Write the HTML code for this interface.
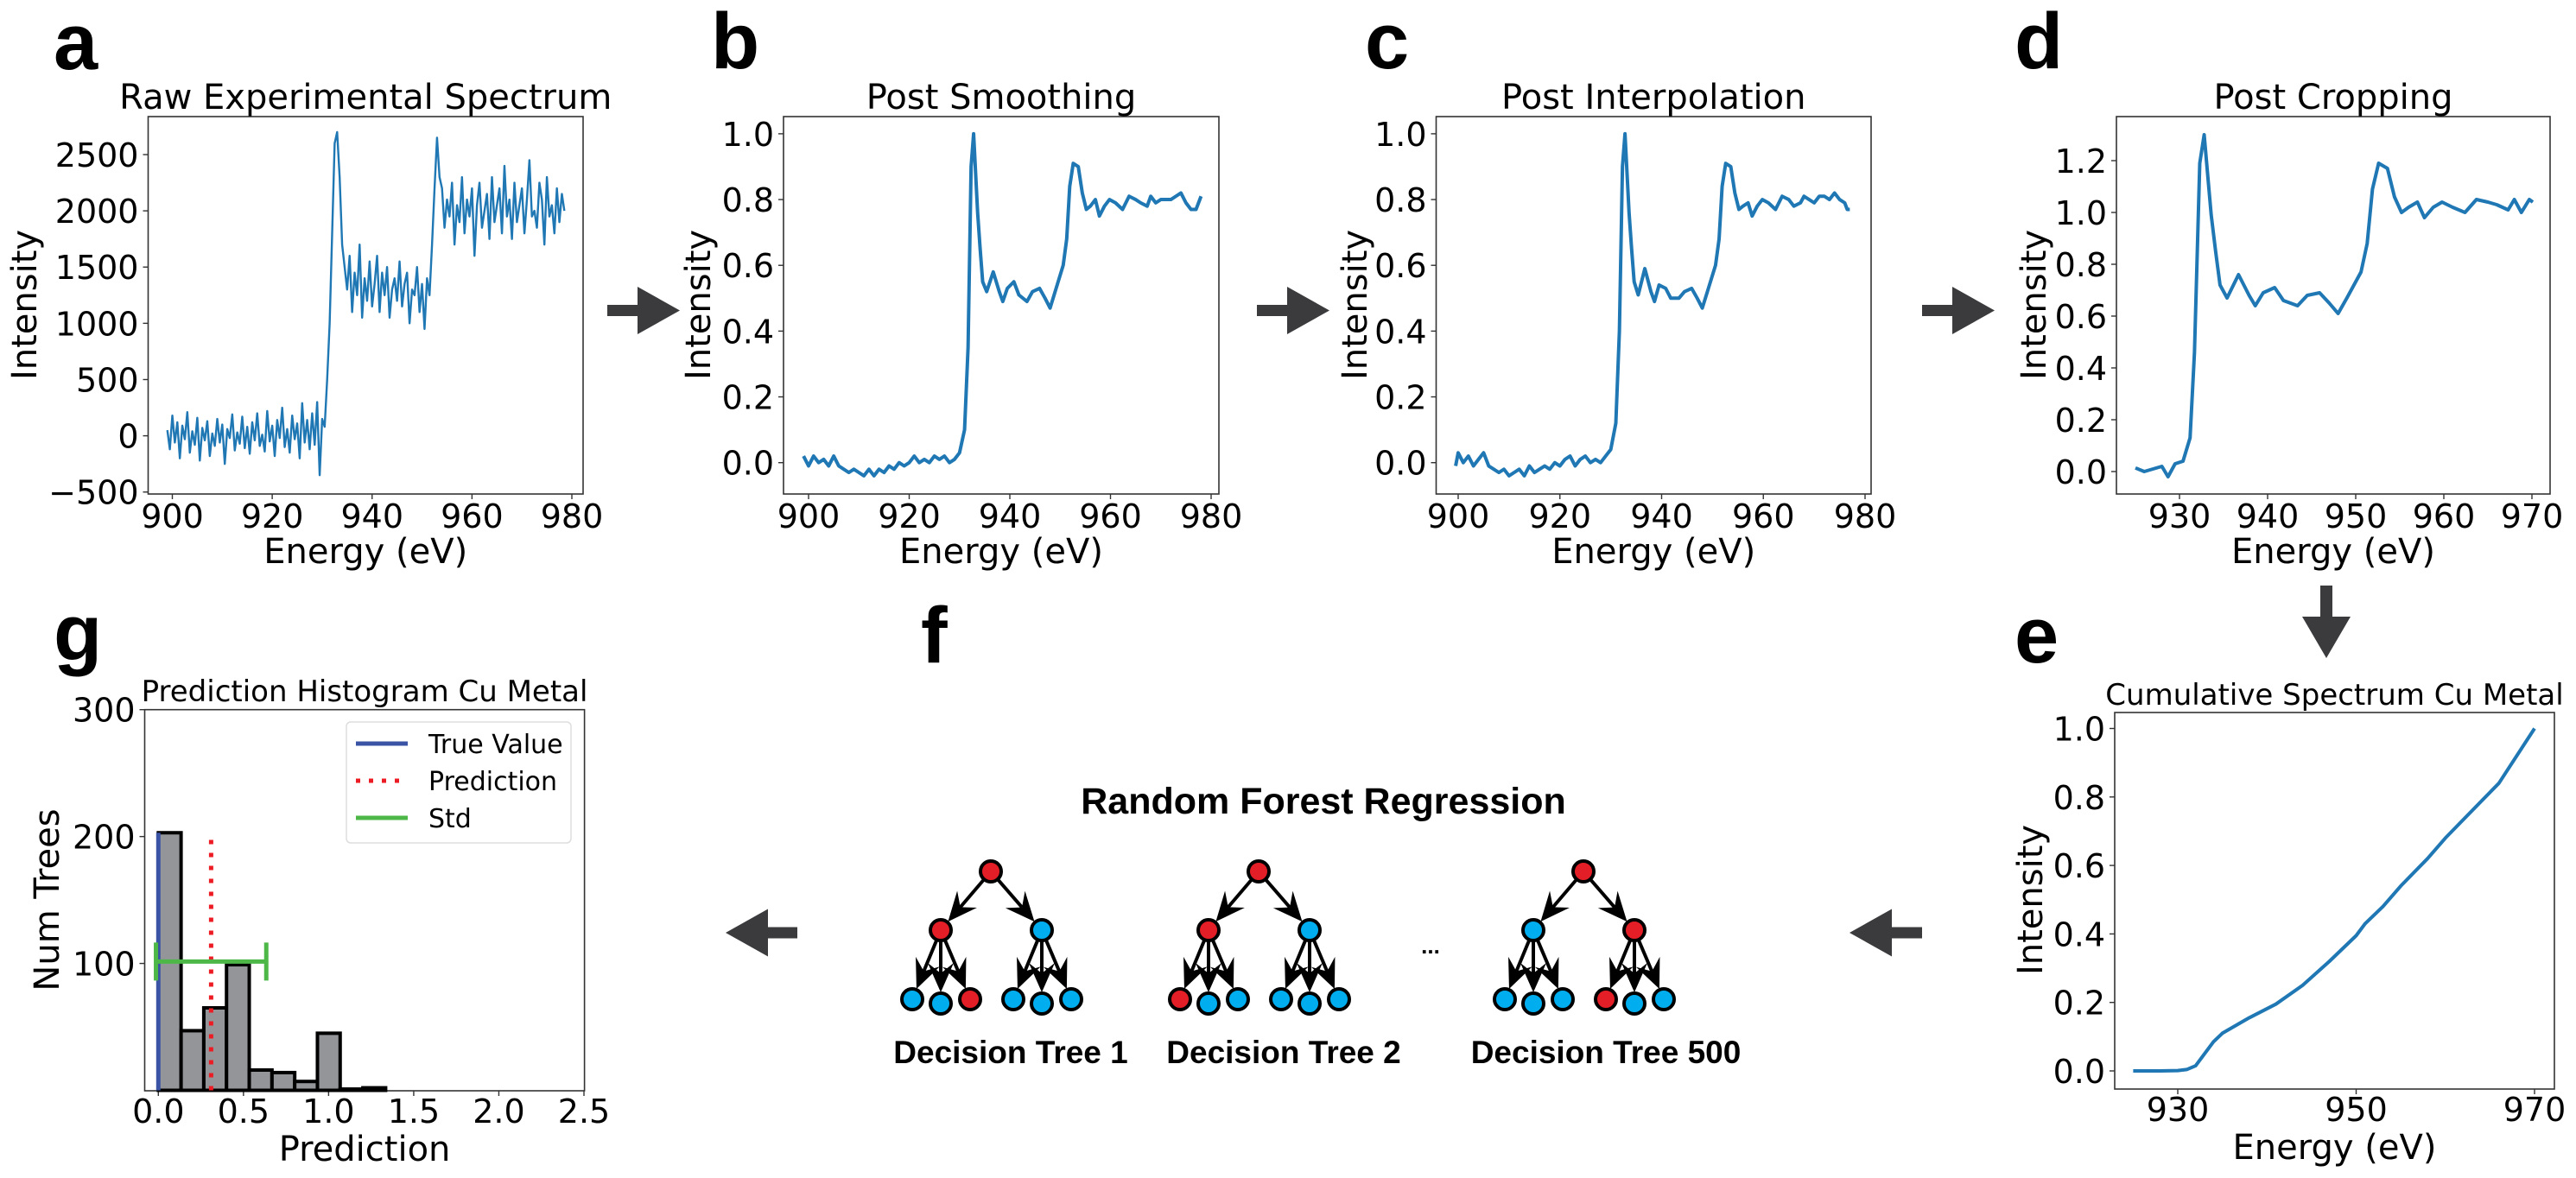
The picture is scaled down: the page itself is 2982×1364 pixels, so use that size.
<!DOCTYPE html>
<html><head><meta charset="utf-8">
<style>
html,body{margin:0;padding:0;background:#fff;}
svg{display:block;font-family:"DejaVu Sans","Liberation Sans",sans-serif;}
.lbl{font-family:"Liberation Sans",sans-serif;font-weight:bold;}
</style></head>
<body>
<svg id="fig" width="2982" height="1364" viewBox="0 0 2982 1364" xmlns="http://www.w3.org/2000/svg"></svg>
<script>
// ---------- data ----------
// raw spectrum: start 899 eV, 0.5 eV step
const rawStart = 899, rawStep = 0.5;
const rawIntensity = [50,-120,180,-60,120,-200,90,-30,210,-150,40,-80,160,-220,70,-40,130,-180,20,-90,150,-60,100,-250,60,-20,190,-130,30,-70,170,-110,80,-160,120,-40,200,-90,10,-140,220,-50,90,-180,140,-20,250,-100,60,-150,180,-30,110,-200,290,-60,140,-120,200,-80,300,-350,150,80,
500,1000,1800,2600,2700,2300,1700,1500,
1300,1600,1100,1450,1250,1700,1050,1400,1200,1550,1150,1350,1600,1100,1450,1250,1500,1050,1300,1400,1200,1550,1150,1350,1450,1000,1300,1250,1500,1100,1350,950,1400,1250,
1700,2200,2650,2300,
2200,1850,2100,1950,2250,1700,2050,1900,2300,1800,2100,1950,2200,1600,2050,2250,1850,2000,2150,1750,2300,1900,2050,2200,1800,2400,1950,2100,1750,2250,1900,2050,2200,1800,2100,2450,1950,2000,1850,2250,2100,1700,2300,1950,2050,1800,2200,1900,2150,2000];
const rawXTicks = [900,920,940,960,980];
const rawYTicks = [-500,0,500,1000,1500,2000,2500];

const smoothEnergy = [899,900,901,902,903,904,905,906,907,908,909,910,911,912,913,914,915,916,917,918,919,920,921,922,923,924,925,926,927,928,929,930,931,931.7,932.3,932.8,933.6,934.1,934.6,935.4,936.7,937.9,938.6,939.5,940.8,941.8,943.4,944.5,945.9,947,948,949,950.6,951.3,951.9,952.6,953.6,954.4,955.2,956,957,957.8,958.8,959.8,961,962.4,963.7,965,966,967.3,968,969,970,971,972,973,974,975,976,977,978];
const smoothIntensity = [0.02,-0.01,0.02,0.0,0.01,-0.01,0.02,-0.01,-0.02,-0.03,-0.02,-0.03,-0.04,-0.02,-0.04,-0.02,-0.03,-0.01,-0.02,0.0,-0.01,0.0,0.02,0.0,0.01,0.0,0.02,0.01,0.02,0.0,0.01,0.03,0.1,0.35,0.9,1.0,0.76,0.65,0.55,0.52,0.58,0.52,0.49,0.53,0.55,0.51,0.49,0.52,0.53,0.5,0.47,0.52,0.6,0.68,0.84,0.91,0.9,0.82,0.77,0.78,0.8,0.75,0.78,0.8,0.79,0.77,0.81,0.8,0.79,0.78,0.81,0.79,0.8,0.8,0.8,0.81,0.82,0.79,0.77,0.77,0.81];

const interpEnergy = [899.5,900,901,902,903,904,905,906,907,908,909,910,911,912,913,914,915,916,917,918,919,920,921,922,923,924,925,926,927,928,929,930,931,931.7,932.3,932.8,933.6,934.1,934.6,935.4,936.7,937.9,938.6,939.5,940.8,941.8,943.4,944.5,945.9,947,948,949,950.6,951.3,951.9,952.6,953.6,954.4,955.2,956,957,957.8,958.8,959.8,961,962.4,963.7,965,966,967.3,968,969,970,971,972,973,974,975,976,976.5,977];
const interpIntensity = [-0.01,0.03,0.0,0.02,-0.01,0.01,0.03,-0.01,-0.02,-0.03,-0.02,-0.04,-0.03,-0.02,-0.04,-0.01,-0.03,-0.02,-0.01,-0.02,0.0,-0.01,0.01,0.02,-0.01,0.01,0.02,0.0,0.01,0.0,0.02,0.04,0.12,0.4,0.9,1.0,0.76,0.65,0.55,0.51,0.59,0.52,0.49,0.54,0.53,0.5,0.5,0.52,0.53,0.5,0.47,0.52,0.6,0.68,0.84,0.91,0.9,0.82,0.77,0.78,0.79,0.75,0.78,0.8,0.79,0.77,0.81,0.8,0.78,0.79,0.81,0.8,0.79,0.81,0.81,0.8,0.82,0.8,0.79,0.77,0.77];

const cropEnergy = [925,926,927,928,928.7,929.5,930.4,931.2,931.7,932.3,932.8,933.6,934.1,934.6,935.4,936.7,937.9,938.6,939.5,940.8,941.8,943.4,944.5,945.9,947,948,949,950.6,951.3,951.9,952.6,953.6,954.4,955.2,956,957,957.8,958.8,959.8,961,962.4,963.7,965,966,967.3,968,968.8,969.7,970.1];
const cropIntensity = [0.014,0.0,0.01,0.02,-0.02,0.03,0.04,0.13,0.46,1.19,1.30,0.99,0.85,0.72,0.67,0.76,0.68,0.64,0.69,0.71,0.66,0.64,0.68,0.69,0.65,0.61,0.67,0.77,0.88,1.09,1.19,1.17,1.06,1.0,1.02,1.04,0.98,1.02,1.04,1.02,1.0,1.05,1.04,1.03,1.01,1.05,1.0,1.05,1.04];

const cumEnergy = [925,928,930,931,932,933,934,935,938,941,944,947,950,951,953,955,958,960,963,966,970];
const cumIntensity = [0,0,0.001,0.004,0.015,0.05,0.085,0.11,0.155,0.195,0.25,0.32,0.395,0.43,0.48,0.54,0.62,0.68,0.76,0.84,1.0];

const histCounts = [203,47,65,99,16,14,7,45,1,2];
const histBinWidth = 0.1335;
const trueValue = 0.0;
const predValue = 0.31;
const stdLow = -0.014, stdHigh = 0.634;
const stdLevel = 101.5;

// ---------- helpers ----------
const NS = 'http://www.w3.org/2000/svg';
const svg = document.getElementById('fig');
function mk(tag, attrs, parent){
  const e = document.createElementNS(NS, tag);
  for (const k in attrs) e.setAttribute(k, attrs[k]);
  (parent||svg).appendChild(e);
  return e;
}
function lin(d0,p0,d1,p1){ return v => p0 + (v-d0)*(p1-p0)/(d1-d0); }
function txt(s, x, y, size, anchor, parent, extra){
  const t = mk('text', Object.assign({x:x, y:y, 'font-size':size, 'text-anchor':anchor||'start', fill:'#000'}, extra||{}), parent);
  t.textContent = s;
  return t;
}

function axes(cfg){
  const g = mk('g', {});
  
  
  mk('rect', {x:cfg.l, y:cfg.t, width:cfg.r-cfg.l, height:cfg.b-cfg.t, fill:'#fff', stroke:'#333', 'stroke-width':1.6}, g);
  cfg.xt.forEach((v,i) => {
    const x = cfg.sx(v);
    mk('line', {x1:x, x2:x, y1:cfg.b, y2:cfg.b+6, stroke:'#333', 'stroke-width':1.4}, g);
    const t = txt(cfg.xl ? cfg.xl[i] : String(v), x, cfg.xtY, cfg.fs, 'middle', g);
    
    
  });
  cfg.yt.forEach((v,i) => {
    const y = cfg.sy(v);
    mk('line', {x1:cfg.l-6, x2:cfg.l, y1:y, y2:y, stroke:'#333', 'stroke-width':1.4}, g);
    const lab = cfg.yl ? cfg.yl[i] : String(v);
    const t = txt(lab.replace('-', '\u2212'), cfg.l-11, y+14, cfg.fs, 'end', g);
    
    
  });
  const tt = txt(cfg.title, (cfg.l+cfg.r)/2, cfg.titleY, cfg.titleFs, 'middle', g);
  
  
  const xl = txt(cfg.xlabel, (cfg.l+cfg.r)/2, cfg.xlabelY, cfg.lfs || 40, 'middle', g);
  
  
  const yl = txt(cfg.ylabel, 0, 0, cfg.lfs || 40, 'middle', g, {transform:`translate(${cfg.ylabelX},${cfg.ylabelY}) rotate(-90)`});
  
  
  return g;
}
function linePath(xs, ys, sx, sy){
  return xs.map((x,i)=> (i?'L':'M') + sx(x).toFixed(2) + ',' + sy(ys[i]).toFixed(2)).join('');
}
const BLUE = '#1f77b4';

// ---------- panel a ----------
(function(){
  const sx = lin(900,199.5,980,662), sy = lin(0,504.6,2500,179);
  const g = axes({name:'panel-a-raw-spectrum', l:171.5,r:675,t:135,b:572, sx, sy, xt:rawXTicks, yt:rawYTicks, fs:38, xtY:611, title:'Raw Experimental Spectrum', titleY:126, titleFs:40, xlabel:'Energy (eV)', xlabelY:652, ylabel:'Intensity', ylabelX:42, ylabelY:353});
  const xs = rawIntensity.map((v,i)=> rawStart + i*rawStep);
  const p = mk('path', {d:linePath(xs, rawIntensity, sx, sy), fill:'none', stroke:BLUE, 'stroke-width':2.4, 'stroke-linejoin':'round'}, g);
  
  
})();

// ---------- panel b ----------
const unitTicks = [0,0.2,0.4,0.6,0.8,1.0];
const unitTickLabels = ['0.0','0.2','0.4','0.6','0.8','1.0'];
(function(){
  const sx = lin(900,936,980,1402), sy = lin(0,535.7,1,154.9);
  const g = axes({name:'panel-b-post-smoothing', l:907,r:1411,t:135,b:572, sx, sy, xt:rawXTicks, yt:unitTicks, yl:unitTickLabels, fs:38, xtY:611, title:'Post Smoothing', titleY:126, titleFs:40, xlabel:'Energy (eV)', xlabelY:652, ylabel:'Intensity', ylabelX:822, ylabelY:353});
  const p = mk('path', {d:linePath(smoothEnergy, smoothIntensity, sx, sy), fill:'none', stroke:BLUE, 'stroke-width':4, 'stroke-linejoin':'round'}, g);
  
  
})();

// ---------- panel c ----------
(function(){
  const sx = lin(900,1688,980,2159), sy = lin(0,535.7,1,154.9);
  const g = axes({name:'panel-c-post-interpolation', l:1662.5,r:2166,t:135,b:572, sx, sy, xt:rawXTicks, yt:unitTicks, yl:unitTickLabels, fs:38, xtY:611, title:'Post Interpolation', titleY:126, titleFs:40, xlabel:'Energy (eV)', xlabelY:652, ylabel:'Intensity', ylabelX:1582, ylabelY:353});
  const p = mk('path', {d:linePath(interpEnergy, interpIntensity, sx, sy), fill:'none', stroke:BLUE, 'stroke-width':4, 'stroke-linejoin':'round'}, g);
  
  
})();

// ---------- panel d ----------
const cropXTicks = [930,940,950,960,970];
const cropYTicks = [0,0.2,0.4,0.6,0.8,1.0,1.2];
const cropYLabels = ['0.0','0.2','0.4','0.6','0.8','1.0','1.2'];
(function(){
  const sx = lin(930,2523,970,2931), sy = lin(0,546,1.2,186);
  const g = axes({name:'panel-d-post-cropping', l:2450,r:2952,t:135,b:572, sx, sy, xt:cropXTicks, yt:cropYTicks, yl:cropYLabels, fs:38, xtY:611, title:'Post Cropping', titleY:126, titleFs:40, xlabel:'Energy (eV)', xlabelY:652, ylabel:'Intensity', ylabelX:2368, ylabelY:353});
  const p = mk('path', {d:linePath(cropEnergy, cropIntensity, sx, sy), fill:'none', stroke:BLUE, 'stroke-width':4, 'stroke-linejoin':'round'}, g);
  
  
})();

// ---------- panel e ----------
const cumXTicks = [930,950,970];
(function(){
  const sx = lin(930,2521,970,2934), sy = lin(0,1240,1,843.5);
  const g = axes({name:'panel-e-cumulative-spectrum', l:2448,r:2957,t:825,b:1261, sx, sy, xt:cumXTicks, yt:unitTicks, yl:unitTickLabels, fs:38, xtY:1298, title:'Cumulative Spectrum Cu Metal', titleY:816, titleFs:34, xlabel:'Energy (eV)', xlabelY:1342, ylabel:'Intensity', ylabelX:2364, ylabelY:1042});
  const p = mk('path', {d:linePath(cumEnergy, cumIntensity, sx, sy), fill:'none', stroke:BLUE, 'stroke-width':4, 'stroke-linejoin':'round'}, g);
  
  
})();

// ---------- panel g ----------
const histXTicks = [0,0.5,1.0,1.5,2.0,2.5];
const histXLabels = ['0.0','0.5','1.0','1.5','2.0','2.5'];
const histYTicks = [100,200,300];
(function(){
  const sx = lin(0,183.3,2.5,676), sy = lin(0,1262.5,300,821.7);
  const g = axes({name:'panel-g-prediction-histogram', l:167.5,r:676.6,t:821.7,b:1263, sx, sy, xt:histXTicks, xl:histXLabels, yt:histYTicks, fs:38, xtY:1300, title:'Prediction Histogram Cu Metal', titleY:812, titleFs:34, xlabel:'Prediction', xlabelY:1344, ylabel:'Num Trees', ylabelX:68, ylabelY:1042});
  histCounts.forEach((c,i) => {
    const x0 = sx(i*histBinWidth), x1 = sx((i+1)*histBinWidth);
    const r = mk('rect', {x:x0, y:sy(c), width:x1-x0, height:sy(0)-sy(c), fill:'#939598', stroke:'#000', 'stroke-width':4}, g);
    
    
  });
  const tv = mk('line', {x1:sx(trueValue), x2:sx(trueValue), y1:sy(0), y2:sy(histCounts[0]), stroke:'#3a53a4', 'stroke-width':5}, g);
  
  
  const pv = mk('line', {x1:sx(predValue), x2:sx(predValue), y1:sy(0), y2:sy(histCounts[0]-4), stroke:'#ed1c24', 'stroke-width':5, 'stroke-dasharray':'5,10'}, g);
  
  
  const sg = mk('g', {stroke:'#4db848', 'stroke-width':5}, g);
  
  
  mk('line', {x1:sx(stdLow), x2:sx(stdHigh), y1:sy(stdLevel), y2:sy(stdLevel)}, sg);
  mk('line', {x1:sx(stdLow), x2:sx(stdLow), y1:sy(stdLevel)-22, y2:sy(stdLevel)+22}, sg);
  mk('line', {x1:sx(stdHigh), x2:sx(stdHigh), y1:sy(stdLevel)-22, y2:sy(stdLevel)+22}, sg);
  const lg = mk('g', {}, g);
  
  
  mk('rect', {x:401, y:836, width:260, height:140, rx:5, fill:'#fff', stroke:'#ddd', 'stroke-width':1.5}, lg);
  const entries = [['True Value','#3a53a4',null,861],['Prediction','#ed1c24','5,10',904],['Std','#4db848',null,947]];
  entries.forEach(e => {
    const eg = mk('g', {}, lg);
    
    
    const a = {x1:412, x2:472, y1:e[3], y2:e[3], stroke:e[1], 'stroke-width':5};
    if (e[2]) a['stroke-dasharray'] = e[2];
    mk('line', a, eg);
    txt(e[0], 496, e[3]+11, 30, 'start', eg);
  });
})();

// ---------- arrows ----------
const AC = '#3b3b3d';
function hArrow(name, tail, tip, cy){
  const dir = tip > tail ? 1 : -1;
  const hb = tip - dir*49;
  const pts = [[tail,cy-6.5],[hb,cy-6.5],[hb,cy-27.5],[tip,cy],[hb,cy+27.5],[hb,cy+6.5],[tail,cy+6.5]];
  const p = mk('polygon', {points:pts.map(q=>q.join(',')).join(' '), fill:AC});
  
  
}
hArrow('arrow-a-to-b', 703, 787, 359.5);
hArrow('arrow-b-to-c', 1455, 1539, 359.5);
hArrow('arrow-c-to-d', 2225, 2309, 359.5);
hArrow('arrow-f-to-g', 923, 840, 1080);
hArrow('arrow-e-to-f', 2225, 2141, 1080);
(function(){
  const cx = 2693, y0 = 678, tip = 762, hb = 714;
  const pts = [[cx-7,y0],[cx+7,y0],[cx+7,hb],[cx+28,hb],[cx,tip],[cx-28,hb],[cx-7,hb]];
  const p = mk('polygon', {points:pts.map(q=>q.join(',')).join(' '), fill:AC});
  
  
})();

// ---------- panel letters ----------
[['a',62,80],['b',823,79],['c',1580,79],['d',2332,79],['e',2332,767],['f',1066,767],['g',62,764]].forEach(l => {
  const t = txt(l[0], l[1], l[2], 92, 'start', svg, {class:'lbl'});
  
  
});

// ---------- panel f: random forest ----------
const RED = '#e41e26', CY = '#00aeef';
const treeRoots = [1147, 1457, 1833];
const treeNames = ['Decision Tree 1','Decision Tree 2','Decision Tree 500'];
const treeLabelX = [1170, 1486, 1859];
const treeColors = [
  ['r','r','b',['b','b','r'],['b','b','b']],
  ['r','r','b',['r','b','b'],['b','b','b']],
  ['r','b','r',['b','b','b'],['r','b','b']]
];
(function(){
  const ft = txt('Random Forest Regression', 1532, 942, 43, 'middle', svg, {class:'lbl'});
  
  
  const dots = txt('...', 1656, 1104, 26, 'middle', svg, {class:'lbl'});
  
  
  function edge(g, x0,y0,x1,y1){
    const dx=x1-x0, dy=y1-y0, L=Math.hypot(dx,dy), ux=dx/L, uy=dy/L;
    const tx = x1-ux*13, ty = y1-uy*13;
    const bx = tx-ux*34, by = ty-uy*34, nx=-uy, ny=ux;
    const nxp = tx-ux*22, nyp = ty-uy*22;
    mk('line', {x1:x0+ux*12, y1:y0+uy*12, x2:nxp, y2:nyp, stroke:'#000', 'stroke-width':4}, g);
    mk('polygon', {points:`${tx},${ty} ${bx+nx*15},${by+ny*15} ${nxp},${nyp} ${bx-nx*15},${by-ny*15}`, fill:'#000'}, g);
  }
  function node(g,x,y,c){
    mk('circle', {cx:x, cy:y, r:12, fill:c==='r'?RED:CY, stroke:'#000', 'stroke-width':4}, g);
  }
  treeRoots.forEach((rx, t) => {
    const g = mk('g', {});
    
    
    const cols = treeColors[t];
    const kids = [rx-58, rx+59];
    const ry = 1009, ky = 1077;
    kids.forEach(kx => edge(g, rx, ry, kx, ky));
    kids.forEach(kx => {
      const leaves = [[kx-33,1157],[kx,1162],[kx+34,1157]];
      leaves.forEach(lf => edge(g, kx, ky, lf[0], lf[1]));
    });
    node(g, rx, ry, cols[0]);
    kids.forEach((kx, k) => {
      node(g, kx, ky, cols[1+k]);
      const leaves = [[kx-33,1157],[kx,1162],[kx+34,1157]];
      leaves.forEach((lf, j) => node(g, lf[0], lf[1], cols[3+k][j]));
    });
    const lab = txt(treeNames[t], treeLabelX[t], 1231, 37, 'middle', svg, {class:'lbl'});
    
    
  });
})();
</script>
</body></html>
